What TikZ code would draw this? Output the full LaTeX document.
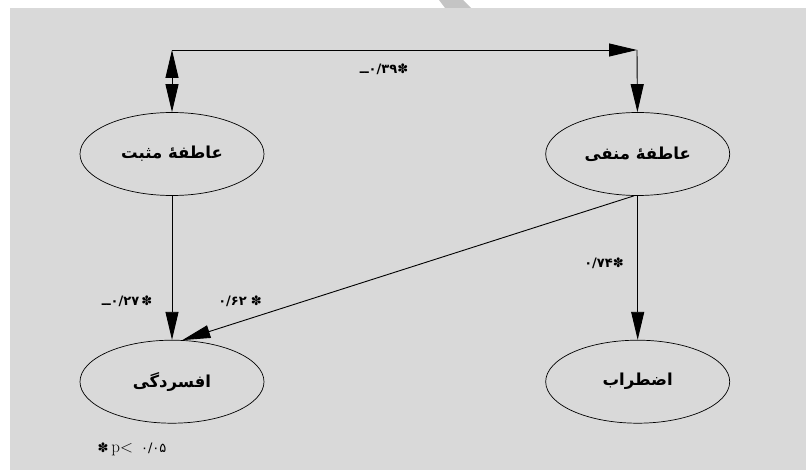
\documentclass[tikz,border=0pt]{standalone}
\usepackage{fontspec}
\usepackage{tikz}
\usetikzlibrary{positioning, arrows.meta, shapes.geometric}
\TeXXeTstate=1
\newfontfamily\arabicfont[Script=Arabic]{DejaVu Sans}
\newfontfamily\numfont{DejaVu Sans}
\definecolor{mygray}{RGB}{217,217,217}
\definecolor{mymark}{RGB}{196,196,196}
\newcommand{\sig}{{\mdseries\fontsize{13}{13}\selectfont ✽}}

\begin{document}
\begin{tikzpicture}
[x=1pt, y=-1pt,
 var/.style={ellipse, draw, line width=0.7pt, minimum width=184pt, minimum height=83pt, inner sep=0pt,
   font=\arabicfont\bfseries\fontsize{16.5}{19}\selectfont},
 coef/.style={inner sep=0pt, font=\numfont\bfseries\fontsize{13}{15}\selectfont},
 ->/.style={line width=0.9pt, arrows={-{Triangle[length=28pt,width=13pt]}}},
 <->/.style={line width=0.9pt, arrows={{Triangle[length=28pt,width=13pt]}-{Triangle[length=28pt,width=13pt]}}}]

% background
\useasboundingbox (0,0) rectangle (806,470);
\fill[mygray] (10,8) rectangle (806,470);
\fill[mymark] (439,0) -- (463,0) -- (471,8) -- (445,8) -- cycle;

% variables
\node[var] (P) at (172,154) {\beginR عاطفهٔ مثبت\endR};
\node[var] (N) [right = 281pt of P] {\beginR عاطفهٔ منفی\endR};
\node[var] (D) [below = 144pt of P] {\beginR افسردگی\endR};
\node[var] (A) [below = 144pt of N] {\beginR اضطراب\endR};
\coordinate (TL) at (172,50);
\coordinate (TR) at (637,50);

  \draw [<->] (TL) -- (P);
  \draw [->] (TL) -- (TR);
  \draw [->] (TR) -- (N);
  \draw [->] (P) -- (D);
  \draw [->] (N) -- (A);
  \draw [->] (N.265) -- (D.76);

% coefficients
\node[coef] (r1) at (384,69) {\mbox{ــ}۰/۳۹\sig};
\node[coef] (r2) at (127,301) {\mbox{ــ}۰/۲۷\hspace{2pt}\sig};
\node[coef] (r3) at (240,301) {۰/۶۲\hspace{4pt}\sig};
\node[coef] (r4) at (604,263) {۰/۷۴\sig};
\node[coef] (sig) at (132,449) {\sig\hspace{3pt}{\rmfamily\mdseries\fontsize{17}{19}\selectfont p<}\hspace{8pt}{\mdseries ۰/۰۵}};

\end{tikzpicture}
\end{document}
